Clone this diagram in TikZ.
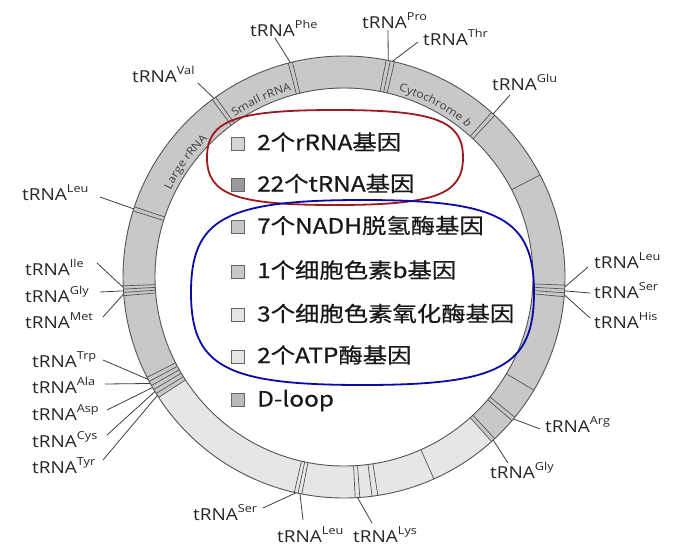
\documentclass[tikz,border=0pt]{standalone}
\usepackage{fontspec}
\usetikzlibrary{decorations.text}
\setmainfont{Open Sans}
\newfontfamily\labfont[FakeStretch=1.15]{Open Sans}
\newfontfamily\ringfont[FakeStretch=1.1]{Open Sans}
\newfontfamily\cjkfont[FakeStretch=1.16,FakeBold=0.6]{Noto Sans CJK SC}
\definecolor{ringmid}{HTML}{C8C8C8}
\definecolor{ringlight}{HTML}{E6E6E6}
\definecolor{ringedge}{HTML}{555555}
\definecolor{redloop}{HTML}{9E1A1E}
\definecolor{blueloop}{HTML}{0A0AA8}
\newcommand{\tlab}[1]{{\labfont\fontsize{16.5}{18}\selectfont tRNA\raisebox{8pt}{\fontsize{11}{12}\selectfont #1}}}
\newcommand{\rtxt}{\ringfont\fontsize{11}{12}\selectfont\color{black!75}}
% squircle: centre x, centre y, half width, half height, k
\newcommand{\squircle}[5]{%
  (#1+#3,#2) .. controls (#1+#3,#2+#5*#4) and (#1+#5*#3,#2+#4) .. (#1,#2+#4)
  .. controls (#1-#5*#3,#2+#4) and (#1-#3,#2+#5*#4) .. (#1-#3,#2)
  .. controls (#1-#3,#2-#5*#4) and (#1-#5*#3,#2-#4) .. (#1,#2-#4)
  .. controls (#1+#5*#3,#2-#4) and (#1+#3,#2-#5*#4) .. (#1+#3,#2) -- cycle}
\tikzset{
  lab/.style={anchor=base west, inner sep=0pt, text=black!85},
  leader/.style={draw=black!75, line width=0.8pt},
  seg/.style={draw=ringedge, line width=0.7pt},
  key/.style={draw=black!60, line width=0.6pt, minimum size=13pt, inner sep=0pt},
  keytext/.style={anchor=base west, inner sep=0pt, font={\cjkfont\fontsize{21}{24}\selectfont}, text=black!90},
  loopline/.style={line width=1.8pt},
}
\begin{document}
\begin{tikzpicture}[x=1pt,y=1pt]
\useasboundingbox (0,0) rectangle (693,-555);
\fill[white] (0,0) rectangle (693,-555);

% ---------------- ring ----------------
\begin{scope}[shift={(344,-277)}]
  \fill[ringmid, even odd rule] (0,0) circle (221pt) (0,0) circle (189pt);
  \fill[ringlight] (213:221pt) arc[start angle=213, end angle=311.9, radius=221pt]
     -- (311.9:189pt) arc[start angle=311.9, end angle=213, radius=189pt] -- cycle;
  \draw[ringedge, line width=0.9pt] (0,0) circle (221pt);
  \draw[ringedge, line width=0.9pt] (0,0) circle (189pt);
  % segment boundaries
  \foreach \a in {125.5,126.6, 103.5,104.6, 79.0,77.9,76.8, 47.0,48.1, 27.5,
                  -2.1,-3.1,-4.1,-5.1, -30.8, -39.4,-40.5, -47.0,-48.1, -66,
                  -81.2,-82.7, -85.9,-87.1, -101.0,-102.0,-103.0,
                  207,208.2,209.4,210.6,211.8,213,
                  182.3,183.15,184.0,184.85, 161.5,162.6}
    \draw[seg] (\a:189pt) -- (\a:221pt);
  % gene names along the ring
  \path[decorate, decoration={text along path, text align=center,
        text={|\rtxt|Large rRNA}}]
        (160:194pt) arc[start angle=160, end angle=128, radius=194pt];
  \path[decorate, decoration={text along path, text align=center,
        text={|\rtxt|Small rRNA}}]
        (126:194pt) arc[start angle=126, end angle=104, radius=194pt];
  \path[decorate, decoration={text along path, text align=center,
        text={|\rtxt|Cytochrome |\rtxt\itshape|b}}]
        (77:194pt) arc[start angle=77, end angle=47, radius=194pt];
  % ring anchor points of the tRNA leaders
  \coordinate (rVal) at (126.05:221pt);
  \coordinate (rPhe) at (104.05:221pt);
  \coordinate (rPro) at (78.45:221pt);
  \coordinate (rThr) at (77.35:221pt);
  \coordinate (rGlu) at (47.55:221pt);
  \coordinate (rLeuR) at (-2.6:221pt);
  \coordinate (rSerR) at (-3.6:221pt);
  \coordinate (rHis) at (-4.6:221pt);
  \coordinate (rArg) at (-39.95:221pt);
  \coordinate (rGlyR) at (-47.55:221pt);
  \coordinate (rLys) at (-86.5:221pt);
  \coordinate (rLeuB) at (-101.5:221pt);
  \coordinate (rSerB) at (-102.5:221pt);
  \coordinate (rTrp) at (207.6:221pt);
  \coordinate (rAla) at (208.8:221pt);
  \coordinate (rAsp) at (210.0:221pt);
  \coordinate (rCys) at (211.2:221pt);
  \coordinate (rTyr) at (212.4:221pt);
  \coordinate (rIle) at (182.7:221pt);
  \coordinate (rGlyL) at (183.6:221pt);
  \coordinate (rMet) at (184.4:221pt);
  \coordinate (rLeuL) at (162.05:221pt);
\end{scope}

% ---------------- loops ----------------
\draw[loopline, redloop] \squircle{335}{-157.5}{128}{47.5}{0.78};
\draw[loopline, blueloop] \squircle{362.5}{-292.5}{171.5}{92.5}{0.8};

% ---------------- legend ----------------
\node[key, fill=black!17] (k1) at (238,-143.5) {};
\node[key, fill=black!40] (k2) at (238,-185) {};
\node[key, fill=black!22] (k3) at (238,-227) {};
\node[key, fill=black!22] (k4) at (238,-271.5) {};
\node[key, fill=black!10] (k5) at (238,-315) {};
\node[key, fill=black!10] (k6) at (238,-356.5) {};
\node[key, fill=black!28] (k7) at (238,-400) {};
\node[keytext] (t1) at (257,-150) {2个rRNA基因};
\node[keytext] (t2) at (257,-191.5) {22个tRNA基因};
\node[keytext] (t3) at (257,-233.5) {7个NADH脱氢酶基因};
\node[keytext] (t4) at (257,-278) {1个细胞色素b基因};
\node[keytext] (t5) at (257,-321.5) {3个细胞色素氧化酶基因};
\node[keytext] (t6) at (257,-363) {2个ATP酶基因};
\node[keytext] (t7) at (257,-406.5) {D-loop};

% ---------------- tRNA labels ----------------
\node[lab] (Val) at (132,-82) {\tlab{Val}};
\node[lab] (Phe) at (250,-36) {\tlab{Phe}};
\node[lab] (Pro) at (362,-28) {\tlab{Pro}};
\node[lab] (Thr) at (423,-45) {\tlab{Thr}};
\node[lab] (Glu) at (492,-90) {\tlab{Glu}};
\node[lab] (LeuL) at (22,-200) {\tlab{Leu}};
\node[lab] (Ile) at (25,-275) {\tlab{Ile}};
\node[lab] (GlyL) at (25,-302) {\tlab{Gly}};
\node[lab] (Met) at (25,-328) {\tlab{Met}};
\node[lab] (Trp) at (32,-367) {\tlab{Trp}};
\node[lab] (Ala) at (32,-393) {\tlab{Ala}};
\node[lab] (Asp) at (32,-420) {\tlab{Asp}};
\node[lab] (Cys) at (32,-447) {\tlab{Cys}};
\node[lab] (Tyr) at (32,-473) {\tlab{Tyr}};
\node[lab] (SerB) at (193,-520) {\tlab{Ser}};
\node[lab] (LeuB) at (277,-542) {\tlab{Leu}};
\node[lab] (Lys) at (353,-542) {\tlab{Lys}};
\node[lab] (GlyR) at (490,-478) {\tlab{Gly}};
\node[lab] (Arg) at (545,-432) {\tlab{Arg}};
\node[lab] (LeuR) at (594,-268) {\tlab{Leu}};
\node[lab] (SerR) at (594,-298) {\tlab{Ser}};
\node[lab] (His) at (594,-328) {\tlab{His}};

% leader start points
\coordinate (lVal) at (198,-83);
\coordinate (lPhe) at (275,-38);
\coordinate (lPro) at (388,-30);
\coordinate (lThr) at (418,-42);
\coordinate (lGlu) at (510,-95);
\coordinate (lLeuL) at (100,-197);
\coordinate (lIle) at (97,-263);
\coordinate (lGlyL) at (100,-292);
\coordinate (lMet) at (103,-317);
\coordinate (lTrp) at (103,-360);
\coordinate (lAla) at (105,-384);
\coordinate (lAsp) at (107,-410);
\coordinate (lCys) at (107,-435);
\coordinate (lTyr) at (103,-460);
\coordinate (lSerB) at (263,-508);
\coordinate (lLeuB) at (303,-520);
\coordinate (lLys) at (372,-523);
\coordinate (lGlyR) at (508,-463);
\coordinate (lArg) at (540,-429);
\coordinate (lLeuR) at (588,-267);
\coordinate (lSerR) at (590,-293);
\coordinate (lHis) at (590,-318);

\foreach \n in {Val,Phe,Pro,Thr,Glu,LeuL,Ile,GlyL,Met,Trp,Ala,Asp,Cys,Tyr,
                SerB,LeuB,Lys,GlyR,Arg,LeuR,SerR,His}
  \draw[leader] (l\n) -- (r\n);
\end{tikzpicture}
\end{document}
